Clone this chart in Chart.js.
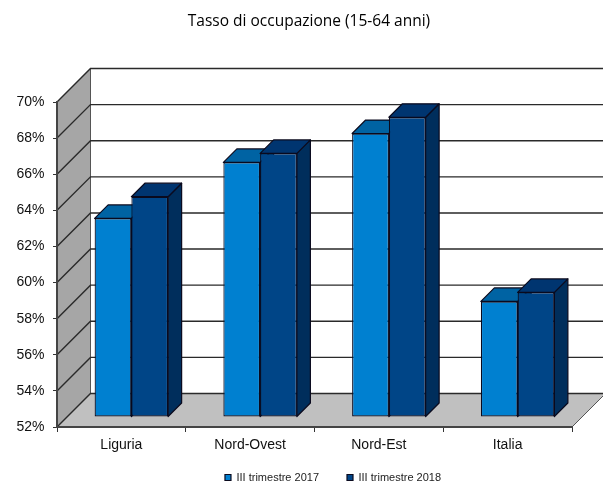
<!DOCTYPE html>
<html>
<head>
<meta charset="utf-8">
<title>Tasso di occupazione</title>
<script src="https://cdn.jsdelivr.net/npm/chart.js@4"></script>
<style>
body { margin: 0; background: #fff; }
canvas { display: block; }
</style>
</head>
<body>
<canvas id="chart" width="603" height="484"></canvas>
<script>
// Dati
const categories = ['Liguria', 'Nord-Ovest', 'Nord-Est', 'Italia'];
const values2017 = [63.0, 66.1, 67.7, 58.4];
const values2018 = [64.2, 66.6, 68.6, 58.9];
const seriesNames = ['III trimestre 2017', 'III trimestre 2018'];
const frontColors = ['#0080D0', '#004587'];
const topColors = ['#0063A3', '#003570'];
const sideColors = ['#004A80', '#002E5C'];

const wallDepth = 33.5;
const barOffset = 10;
const barDepth = 13.5;

function poly(ctx, pts, fill, stroke, width) {
    ctx.beginPath();
    pts.forEach((p, i) => i ? ctx.lineTo(p[0], p[1]) : ctx.moveTo(p[0], p[1]));
    ctx.closePath();
    ctx.fillStyle = fill;
    ctx.fill();
    if (stroke) {
        ctx.strokeStyle = stroke;
        ctx.lineWidth = width;
        ctx.stroke();
    }
}

// Pareti e pavimento dietro gli assi
const walls = {
    id: 'walls',
    beforeDraw(chart) {
        const ctx = chart.ctx;
        const a = chart.chartArea;
        const d = wallDepth;
        ctx.save();
        poly(ctx, [[a.left, a.top], [a.left + d, a.top - d], [a.left + d, a.bottom - d], [a.left, a.bottom]], '#A6A6A6', '#555', 1);
        poly(ctx, [[a.left, a.bottom], [a.left + d, a.bottom - d], [a.right + d, a.bottom - d], [a.right, a.bottom]], '#C0C0C0', '#555', 1);
        ctx.strokeStyle = '#2a2a2a';
        ctx.lineWidth = 1.4;
        chart.scales.y.ticks.forEach((t) => {
            const y = chart.scales.y.getPixelForValue(t.value);
            ctx.beginPath();
            ctx.moveTo(a.left, y);
            ctx.lineTo(a.left + d, y - d);
            ctx.lineTo(a.right + d, y - d);
            ctx.stroke();
        });
        ctx.restore();
    }
};

// Facce laterali e superiori, poi le barre spostate in profondità
const bars3d = {
    id: 'bars3d',
    beforeDatasetsDraw(chart) {
        const ctx = chart.ctx;
        const k = barDepth;
        ctx.save();
        ctx.translate(barOffset, -barOffset);
        ctx.lineJoin = 'round';
        chart.data.datasets.forEach((ds, i) => {
            chart.getDatasetMeta(i).data.forEach((bar) => {
                const l = bar.x - bar.width / 2;
                const r = bar.x + bar.width / 2;
                poly(ctx, [[r, bar.y], [r + k, bar.y - k], [r + k, bar.base - k], [r, bar.base]], sideColors[i], '#0a0a1e', 1.2);
                poly(ctx, [[l, bar.y], [l + k, bar.y - k], [r + k, bar.y - k], [r, bar.y]], topColors[i], '#0a0a1e', 1.2);
            });
        });
    },
    afterDatasetsDraw(chart) {
        chart.ctx.restore();
    }
};

// Titolo e legenda non sono centrati sul grafico
const placeBlocks = {
    id: 'placeBlocks',
    beforeLayout(chart) {
        const legend = chart.legend;
        if (!legend.fitWrapped) {
            const fit = legend.fit.bind(legend);
            legend.fit = function () {
                fit();
                this.height = 26;
            };
            legend.fitWrapped = true;
        }
    },
    afterLayout(chart) {
        chart.titleBlock.left += 23;
        chart.titleBlock.right += 23;
        chart.legend.left += 47;
        chart.legend.right += 47;
        chart.legend.top = 444;
        chart.legend.bottom = 484;
    }
};

new Chart(document.getElementById('chart').getContext('2d'), {
    type: 'bar',
    data: {
        labels: categories,
        datasets: [
            { label: seriesNames[0], data: values2017, base: 52, backgroundColor: frontColors[0], borderColor: '#0a0a1e', borderWidth: 1.2, borderSkipped: false, clip: false },
            { label: seriesNames[1], data: values2018, base: 52, backgroundColor: frontColors[1], borderColor: '#0a0a1e', borderWidth: 1.2, borderSkipped: false, clip: false }
        ]
    },
    options: {
        responsive: false,
        animation: false,
        categoryPercentage: 0.571,
        barPercentage: 1,
        layout: { padding: { left: 0, right: 31, top: 0, bottom: 0 } },
        plugins: {
            title: {
                display: true,
                text: 'Tasso di occupazione (15-64 anni)',
                color: '#000',
                font: { family: '"Open Sans"', size: 15.5, weight: 'normal', lineHeight: 1.2 },
                padding: { top: 12, bottom: 71.4 }
            },
            legend: {
                position: 'bottom',
                labels: {
                    color: '#222',
                    font: { family: '"Liberation Sans"', size: 11 },
                    boxWidth: 6,
                    boxHeight: 6,
                    padding: 28
                }
            },
            tooltip: { enabled: false }
        },
        scales: {
            x: {
                afterFit(s) { s.height = 31; },
                grid: { drawOnChartArea: false, color: '#333', tickLength: 5 },
                border: { color: '#444', width: 2 },
                ticks: { color: '#111', font: { family: '"Liberation Sans"', size: 14 }, padding: 5, maxRotation: 0 }
            },
            y: {
                min: 52,
                max: 70,
                afterFit(s) { s.width = 57; },
                grid: { drawOnChartArea: false, color: '#333', tickLength: 4 },
                border: { color: '#444', width: 2 },
                ticks: { stepSize: 2, color: '#111', font: { family: '"Liberation Sans"', size: 14 }, padding: 8.5, callback: (v) => v + '%' }
            }
        }
    },
    plugins: [walls, bars3d, placeBlocks]
});
</script>
</body>
</html>
